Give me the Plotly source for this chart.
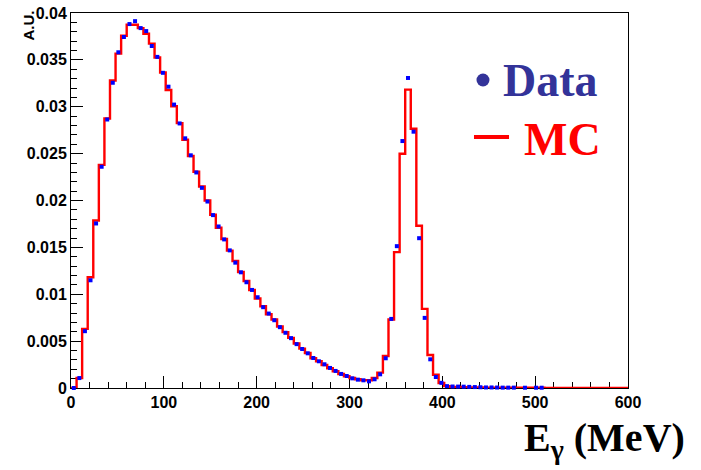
import plotly.graph_objects as go

# ---------------- data ----------------
bin_width = 6
bin_centers = [3 + 6 * i for i in range(100)]

data_values = [
    0.0, 0.00106, 0.00606, 0.01149, 0.01755, 0.0236, 0.02864, 0.03256, 0.03581, 0.03744,
    0.03882, 0.03913, 0.03839, 0.03807, 0.03648, 0.03532, 0.03362, 0.03214, 0.03023, 0.02822,
    0.02663, 0.02482, 0.02299, 0.02135, 0.01989, 0.01844, 0.01723, 0.01585, 0.01468, 0.01337,
    0.01234, 0.01128, 0.01046, 0.00968, 0.00862, 0.00794, 0.00723, 0.00649, 0.00589, 0.00532,
    0.00468, 0.00416, 0.0037, 0.0032, 0.00285, 0.00253, 0.00214, 0.00182, 0.0015, 0.00128,
    0.00103, 0.00089, 0.00082, 0.00071, 0.00093, 0.00146, 0.00317, 0.00737, 0.01513, 0.02634,
    0.03307, 0.02734, 0.01598, 0.00748, 0.00306, 0.00117, 0.00055, 0.0002, 0.00016, 0.00015,
    0.00014, 0.00012, 0.0001, 0.00008, 0.00006, 0.00006, 0.00005, 0.00004, 0.00004, 0.00004,
    None, 0.00003, None, 0.00003, 0.00003, None, None, None, None, None,
    None, None, None, None, None, None, None, None, None, None,
]

mc_values = [
    0.0, 0.00106, 0.00631, 0.01181, 0.01787, 0.0238, 0.02875, 0.0328, 0.03567, 0.03758,
    0.03875, 0.03875, 0.03839, 0.03779, 0.03673, 0.03525, 0.03366, 0.03178, 0.03005, 0.02825,
    0.02648, 0.02475, 0.02306, 0.0215, 0.02, 0.01848, 0.01709, 0.01589, 0.01465, 0.01355,
    0.01238, 0.01142, 0.01046, 0.00954, 0.00872, 0.00787, 0.0073, 0.00656, 0.00596, 0.00535,
    0.00475, 0.0042, 0.00373, 0.00317, 0.00285, 0.00246, 0.0021, 0.00178, 0.0015, 0.00125,
    0.00107, 0.00093, 0.00082, 0.00082, 0.00107, 0.00164, 0.00342, 0.0073, 0.01449, 0.02499,
    0.03183, 0.02766, 0.0173, 0.00844, 0.00352, 0.00142, 0.00053, 0.0002, 0.00012, 0.0001,
    0.00008, 0.00007, 0.00006, 0.00005, 0.00004, 0.00004, 0.00003, 0.00003, 0.00002, 0.00002,
    0.00002, 0.00002, 0.00002, 0.00002, 0.00002, 0.0, 0.0, 0.0, 0.0, 0.0,
    0.0, 0.0, 0.0, 0.0, 0.0, 0.0, 0.0, 0.0, 0.0, 0.0,
]

# histogram outline: lower bin edges + final upper edge
edges = [c - bin_width / 2 for c in bin_centers] + [bin_centers[-1] + bin_width / 2]
mc_step = mc_values + [mc_values[-1]]

x_title = "E<sub>γ</sub> (MeV)"
y_title = "A.U."
legend_labels = ["Data", "MC"]

# ---------------- figure ----------------
fig = go.Figure()

fig.add_trace(go.Scatter(
    x=edges, y=mc_step, mode="lines", line_shape="hv",
    line=dict(color="#ff0000", width=2.4), name="MC", showlegend=False,
))

fig.add_trace(go.Scatter(
    x=bin_centers, y=data_values, mode="markers",
    marker=dict(symbol="square", size=4, color="#0000ff", line=dict(width=0)),
    name="Data", showlegend=False, cliponaxis=False,
))

tickfont = dict(family="Liberation Sans, Arial", size=16, color="black", weight="bold")

fig.update_xaxes(
    range=[0, 600], showgrid=False, zeroline=False,
    showline=True, linecolor="black", linewidth=1, mirror=True,
    ticks="inside", ticklen=12, tickwidth=1, tickcolor="black",
    tick0=0, dtick=100, tickfont=tickfont, automargin=False,
    minor=dict(dtick=20, ticks="inside", ticklen=6, tickcolor="black", tickwidth=1, showgrid=False),
    layer="below traces",
)
fig.update_yaxes(
    range=[0, 0.04], showgrid=False, zeroline=False,
    showline=True, linecolor="black", linewidth=1, mirror=True,
    ticks="inside", ticklen=12, tickwidth=1, tickcolor="black",
    tick0=0, dtick=0.005, tickfont=tickfont, automargin=False,
    minor=dict(dtick=0.001, ticks="inside", ticklen=6, tickcolor="black", tickwidth=1, showgrid=False),
    layer="below traces",
)

serif = "Liberation Serif, Times New Roman"

annotations = [
    dict(text=y_title, xref="paper", yref="paper", x=-0.077, y=1.012,
         xanchor="center", yanchor="top", textangle=-90, showarrow=False,
         font=dict(family="Liberation Sans, Arial", size=15, color="black", weight="bold")),
    dict(text=x_title, xref="paper", yref="paper", x=1.106, y=-0.066,
         xanchor="right", yanchor="top", showarrow=False,
         font=dict(family=serif, size=40, color="black", weight="bold")),
    dict(text=legend_labels[0], xref="paper", yref="paper", x=0.772, y=0.819,
         xanchor="left", yanchor="middle", showarrow=False,
         font=dict(family=serif, size=46, color="#333399", weight="bold")),
    dict(text=legend_labels[1], xref="paper", yref="paper", x=0.8097, y=0.664,
         xanchor="left", yanchor="middle", showarrow=False,
         font=dict(family=serif, size=46, color="#ff0000", weight="bold")),
]

shapes = [
    dict(type="circle", xref="paper", yref="paper", x0=0.728, x1=0.7513, y0=0.804, y1=0.8387,
         fillcolor="#333399", line=dict(width=0)),
    dict(type="line", xref="paper", yref="paper", x0=0.7235, x1=0.7864, y0=0.6693, y1=0.6693,
         line=dict(color="#ff0000", width=4)),
]

fig.update_layout(
    width=701, height=470,
    margin=dict(l=71, r=73, t=13, b=82, pad=0),
    paper_bgcolor="white", plot_bgcolor="white",
    showlegend=False,
    annotations=annotations, shapes=shapes,
)

fig.write_html("out.html", config={"displayModeBar": False},
               post_script="document.body.style.margin='0px';")
